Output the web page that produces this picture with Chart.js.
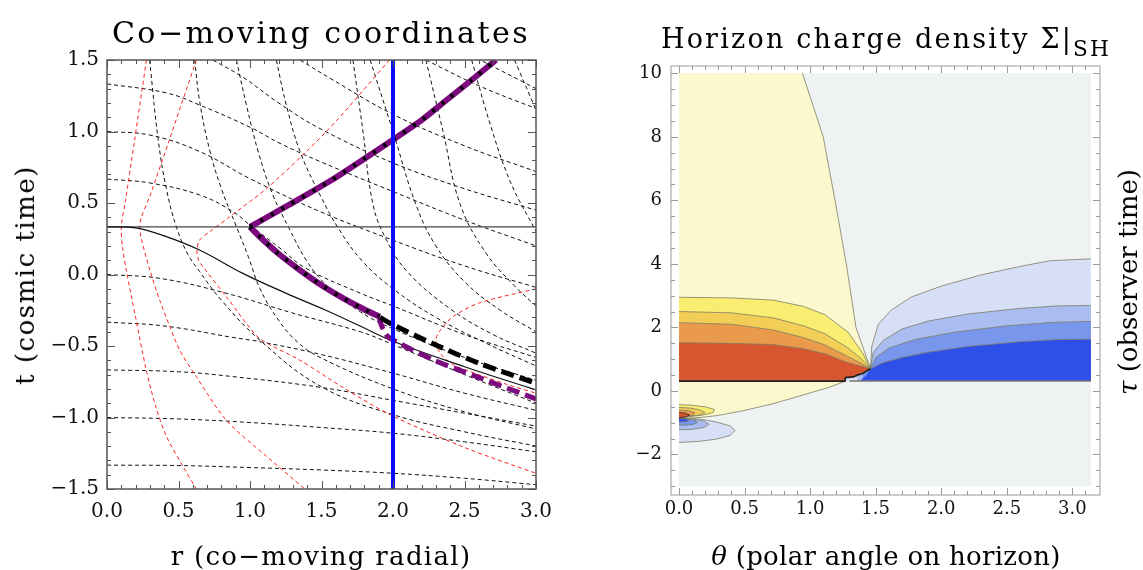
<!DOCTYPE html>
<html>
<head>
<meta charset="utf-8">
<script src="https://cdn.jsdelivr.net/npm/chart.js@4.4.1/dist/chart.umd.min.js"></script>
<style>
  html, body { margin: 0; padding: 0; background: #fff; }
  #wrap { position: relative; width: 1143px; height: 570px; overflow: hidden;
          font-family: "DejaVu Serif", serif; color: #000; }
  .panel { position: absolute; top: 0; height: 570px; }
  #left  { left: 0; width: 571px; }
  #right { left: 571px; width: 572px; }
  .lbl { position: absolute; white-space: nowrap; transform: translate(-50%, -50%); }
  .rot { transform: translate(-50%, -50%) rotate(-90deg); }
  sub { font-size: 0.8em; vertical-align: -0.35em; }
</style>
</head>
<body>
<div id="wrap">
  <div class="panel" id="left"><canvas id="comoving"></canvas></div>
  <div class="panel" id="right"><canvas id="horizon"></canvas></div>

  <div class="lbl" style="left:321px;top:32px;font-size:30px;letter-spacing:2.5px">Co−moving coordinates</div>
  <div class="lbl" style="left:321px;top:556px;font-size:26px;letter-spacing:1.3px">r (co−moving radial)</div>
  <div class="lbl rot" style="left:25px;top:275px;font-size:26px;letter-spacing:1.5px">t (cosmic time)</div>

  <div class="lbl" style="left:886px;top:42px;font-size:27px;letter-spacing:2.2px">Horizon charge density Σ|<sub>SH</sub></div>
  <div class="lbl" style="left:886px;top:556px;font-size:26px;letter-spacing:0.3px"><i>θ</i> (polar angle on horizon)</div>
  <div class="lbl rot" style="left:1128px;top:282px;font-size:26px"><i>τ</i> (observer time)</div>
</div>

<script>
// =====================================================================
// Left panel: co-moving coordinates (r, t)
// =====================================================================
const rTicks = [0, 0.5, 1, 1.5, 2, 2.5, 3];
const tTicks = [-1.5, -1, -0.5, 0, 0.5, 1, 1.5];

// roughly horizontal black dashed family
const sliceM133 = [[0,-1.333],[0.5,-1.336],[1.0,-1.35],[1.5,-1.367],[2.0,-1.39],[2.5,-1.425],[3.0,-1.47]];
const sliceM100 = [[0,-1.0],[0.5,-1.01],[1.0,-1.035],[1.5,-1.07],[2.0,-1.11],[2.5,-1.17],[3.0,-1.24]];
const sliceM067 = [[0,-0.667],[0.5,-0.68],[0.88,-0.714],[1.5,-0.79],[2.0,-0.88],[2.5,-0.97],[3.0,-1.06]];
const sliceM033 = [[0,-0.333],[0.4,-0.36],[0.88,-0.44],[1.07,-0.47],[1.5,-0.56],[2.0,-0.69],[2.5,-0.83],[3.0,-0.95]];
const slice000  = [[0,0],[0.37,-0.027],[0.83,-0.13],[1.3,-0.27],[1.77,-0.4],[2.0,-0.49],[2.5,-0.7],[3.0,-0.9]];
const slice067  = [[0,0.667],[0.3,0.64],[0.648,0.556],[0.88,0.44],[1.0,0.345],[1.21,0.184],[1.39,0.044],[1.77,-0.13],[2.0,-0.22],[2.5,-0.42],[3.0,-0.58]];
const slice100  = [[0,1.0],[0.3,0.975],[0.648,0.86],[1.0,0.67],[1.49,0.44],[2.0,0.24],[2.5,0.06],[3.0,-0.09]];
const slice133  = [[0,1.333],[0.415,1.27],[0.648,1.185],[1.0,1.03],[1.21,0.917],[1.49,0.79],[2.0,0.58],[2.5,0.38],[3.0,0.2]];
const slice167  = [[0.74,1.5],[0.95,1.38],[1.2,1.2],[1.49,1.02],[2.0,0.78],[2.5,0.6],[3.0,0.45]];
const slice200  = [[1.35,1.5],[1.557,1.374],[2.0,1.12],[2.5,0.9],[3.0,0.72]];
const slice233  = [[2.23,1.5],[2.6,1.32],[3.0,1.16]];
const slice267  = [[2.63,1.49],[3.0,1.3]];

// steep black dashed family
const steep1 = [[0.298,1.5],[0.357,0.95],[0.415,0.6],[0.485,0.333],[0.566,0.14],[0.648,0.02],[0.8,-0.18],[1.07,-0.46],[1.49,-0.78],[2.0,-0.98],[2.5,-1.1],[3.0,-1.2]];
const steep2 = [[0.613,1.5],[0.648,1.21],[0.718,0.87],[0.8,0.6],[0.905,0.335],[0.99,0.12],[1.07,-0.1],[1.2,-0.32],[1.33,-0.47],[1.49,-0.58],[2.0,-0.8],[2.5,-0.96],[3.0,-1.08]];
const steep3 = [[0.905,1.5],[0.975,1.185],[1.06,0.85],[1.16,0.556],[1.27,0.33],[1.4,0.09],[1.55,-0.09],[1.77,-0.26],[2.0,-0.38],[2.5,-0.58],[3.0,-0.74]];
const steep4 = [[1.184,1.5],[1.254,1.185],[1.35,0.86],[1.49,0.556],[1.62,0.32],[1.78,0.1],[2.0,-0.1],[2.3,-0.3],[2.65,-0.48],[3.0,-0.64]];
const steep5 = [[1.72,1.5],[1.79,1.0],[1.86,0.49],[1.95,0.25],[2.1,0.02],[2.4,-0.24],[2.7,-0.42],[3.0,-0.55]];
const steep6 = [[1.84,1.5],[2.0,1.0],[2.16,0.49],[2.3,0.2],[2.5,-0.05],[2.75,-0.25],[3.0,-0.4]];
const steep7 = [[2.23,1.5],[2.35,1.0],[2.47,0.49],[2.65,0.15],[2.85,-0.08],[3.0,-0.22]];
const steep8 = [[2.55,1.5],[2.68,1.05],[2.82,0.65],[3.0,0.3]];
const steep9 = [[2.85,1.5],[3.0,1.15]];

// red dashed rays
const ray1 = [[0.276,1.5],[0.19,0.92],[0.13,0.52],[0.1,0.333],[0.11,0.18],[0.135,0.03],[0.2,-0.3],[0.275,-0.67],[0.34,-0.92],[0.415,-1.13],[0.53,-1.34],[0.625,-1.5]];
const ray2 = [[0.625,1.5],[0.432,0.93],[0.3,0.55],[0.24,0.4],[0.229,0.333],[0.24,0.25],[0.3,0.03],[0.368,-0.178],[0.44,-0.365],[0.508,-0.528],[0.625,-0.715],[0.835,-1.02],[1.114,-1.27],[1.395,-1.51]];
const ray3 = [[1.975,1.5],[1.6,1.07],[1.394,0.86],[1.114,0.6],[0.858,0.404],[0.72,0.3],[0.648,0.241],[0.629,0.171],[0.64,0.1],[0.671,0.054],[0.834,-0.155],[0.974,-0.341],[1.07,-0.45],[1.35,-0.6],[1.65,-0.79],[1.98,-0.98],[2.5,-1.21],[3.0,-1.39]];
const ray4 = [[3.0,-0.1],[2.6,-0.2],[2.42,-0.295],[2.33,-0.39],[2.3,-0.46],[2.33,-0.55],[2.42,-0.63],[2.6,-0.7],[2.8,-0.77],[3.0,-0.83]];

// solid curves
const shellCurve  = [[0,0.333],[0.2,0.326],[0.4,0.27],[0.65,0.17],[0.95,0.008],[1.25,-0.13],[1.53,-0.25],[1.77,-0.36],[2.0,-0.467],[2.5,-0.645],[3.0,-0.807]];
const horizonLine = [[0,0.333],[3,0.333]];

// thick highlighted paths
const purpleUpper  = [[1.0,0.333],[1.25,0.475],[1.557,0.652],[1.8,0.81],[2.0,0.943],[2.2,1.08],[2.362,1.21],[2.55,1.36],[2.72,1.5]];
const purpleLower  = [[1.0,0.333],[1.07,0.262],[1.2,0.145],[1.35,0.03],[1.5,-0.075],[1.65,-0.165],[1.8,-0.245],[1.907,-0.295]];
const purpleDashed = [[1.907,-0.295],[1.91,-0.33],[1.93,-0.38],[1.96,-0.43],[2.0,-0.458],[2.28,-0.596],[2.6,-0.72],[3.0,-0.87]];
const blackDashed  = [[1.91,-0.3],[2.0,-0.352],[2.28,-0.484],[2.6,-0.62],[3.0,-0.76]];
const observerLine = [[2,-1.6],[2,1.6]];

// =====================================================================
// Right panel: horizon charge density contours (theta, tau)
// =====================================================================
const thetaTicks = [0, 0.5, 1, 1.5, 2, 2.5, 3];
const tauTicks = [-2, 0, 2, 4, 6, 8, 10];
const thetaMax = 3.1416;

const dataRect   = [[0,-3],[thetaMax,-3],[thetaMax,10],[0,10]];
const wedgeEdge  = [[0.942,10],[1.1,8],[1.19,6],[1.276,4],[1.35,2],[1.46,0.7]];
const lensEdge   = [[1.27,0.31],[1.15,0.12],[1.0,-0.06],[0.87,-0.22],[0.7,-0.42],[0.49,-0.62],[0.3,-0.77],[0.15,-0.84],[0,-0.86]];
const yellowTop  = [[0,2.95],[0.4,2.93],[0.72,2.86],[0.95,2.66],[1.113,2.4],[1.29,1.85],[1.4,1.2],[1.46,0.7]];
const goldTop    = [[0,2.5],[0.4,2.46],[0.72,2.3],[0.95,2.05],[1.113,1.8],[1.29,1.35],[1.4,0.98],[1.46,0.7]];
const orangeTop  = [[0,2.15],[0.4,2.1],[0.72,1.92],[0.95,1.68],[1.113,1.45],[1.29,1.08],[1.4,0.85],[1.46,0.7]];
const redTop     = [[0,1.52],[0.4,1.5],[0.717,1.46],[0.95,1.33],[1.113,1.17],[1.29,0.89],[1.4,0.77],[1.46,0.7]];
const stairEdge  = [[0,0.31],[1.265,0.31],[1.27,0.42],[1.33,0.44],[1.36,0.5],[1.4,0.55],[1.43,0.63],[1.46,0.7]];
const paleBlueTop  = [[1.46,0.7],[1.47,1.4],[1.52,2.1],[1.62,2.55],[1.773,2.96],[2.0,3.3],[2.3,3.65],[2.6,3.92],[2.83,4.1],[thetaMax,4.16]];
const lightBlueTop = [[1.46,0.7],[1.48,1.2],[1.56,1.6],[1.7,1.95],[1.9,2.2],[2.2,2.42],[2.6,2.6],[2.9,2.68],[thetaMax,2.69]];
const midBlueTop   = [[1.46,0.7],[1.5,1.05],[1.6,1.35],[1.8,1.62],[2.1,1.85],[2.5,2.05],[2.85,2.16],[thetaMax,2.19]];
const deepBlueTop  = [[1.46,0.7],[1.55,0.88],[1.7,1.05],[1.9,1.22],[2.2,1.4],[2.6,1.55],[2.9,1.62],[thetaMax,1.63]];
const blueBase     = [[1.3,0.31],[thetaMax,0.31]];

// small lobes near the pole
const lobeYellow = [[0,-0.43],[0.1,-0.45],[0.2,-0.5],[0.27,-0.58],[0.26,-0.68],[0.17,-0.77],[0,-0.83]];
const lobeGold   = [[0,-0.52],[0.09,-0.54],[0.16,-0.6],[0.2,-0.68],[0.15,-0.76],[0.06,-0.81],[0,-0.83]];
const lobeOrange = [[0,-0.6],[0.07,-0.62],[0.12,-0.68],[0.11,-0.76],[0.05,-0.82],[0,-0.83]];
const lobeRed    = [[0,-0.68],[0.05,-0.7],[0.08,-0.76],[0.05,-0.82],[0,-0.84]];
const lobePaleBlue  = [[0,-0.86],[0.15,-0.88],[0.28,-0.97],[0.39,-1.1],[0.427,-1.24],[0.39,-1.4],[0.28,-1.52],[0.14,-1.59],[0,-1.62]];
const lobeLightBlue = [[0,-0.86],[0.1,-0.88],[0.19,-0.95],[0.23,-1.05],[0.19,-1.15],[0.1,-1.21],[0,-1.22]];
const lobeMidBlue   = [[0,-0.86],[0.07,-0.88],[0.13,-0.93],[0.14,-1.0],[0.1,-1.06],[0,-1.08]];
const lobeDeepBlue  = [[0,-0.86],[0.05,-0.88],[0.08,-0.92],[0.06,-0.96],[0,-0.98]];

// ---------------------------------------------------------------------
// helpers
// ---------------------------------------------------------------------
const pts = (a) => a.map(([x, y]) => ({ x, y }));

function curve(data, color, width, dash, tension = 0.4) {
  return { data: pts(data), borderColor: color, borderWidth: width, borderDash: dash || [],
           pointRadius: 0, tension, fill: false, borderCapStyle: 'butt' };
}
function patch(data, color, edge) {
  return { data: pts(data), backgroundColor: color, fill: 'shape', pointRadius: 0, tension: 0,
           borderColor: edge || color, borderWidth: edge ? 0.8 : 0 };
}
// first dataset in the list is drawn at the bottom
function stack(list) {
  list.forEach((d, i) => { d.order = list.length - i; });
  return list;
}
function range(from, to, step) {
  const out = [];
  for (let v = from; v <= to + 1e-9; v += step) out.push(+v.toFixed(4));
  return out;
}
const minus = (s) => s.replace('-', '\u2212');

// inward frame ticks on all four sides (Mathematica style frame)
const frameTicks = {
  id: 'frameTicks',
  afterDatasetsDraw(chart, args, o) {
    const { ctx, chartArea: a, scales: { x, y } } = chart;
    ctx.save();
    ctx.strokeStyle = o.color;
    ctx.lineWidth = 1;
    ctx.beginPath();
    const vx = (vals, len) => vals.forEach((v) => {
      const p = Math.round(x.getPixelForValue(v)) + 0.5;
      ctx.moveTo(p, a.bottom); ctx.lineTo(p, a.bottom - len);
      ctx.moveTo(p, a.top);    ctx.lineTo(p, a.top + len);
    });
    const hy = (vals, len) => vals.forEach((v) => {
      const p = Math.round(y.getPixelForValue(v)) + 0.5;
      ctx.moveTo(a.left, p);  ctx.lineTo(a.left + len, p);
      ctx.moveTo(a.right, p); ctx.lineTo(a.right - len, p);
    });
    vx(o.xMinor, o.minorLen); vx(o.xMajor, o.majorLen);
    hy(o.yMinor, o.minorLen); hy(o.yMajor, o.majorLen);
    ctx.stroke();
    ctx.lineWidth = o.frameWidth;
    ctx.strokeRect(a.left, a.top, a.right - a.left, a.bottom - a.top);
    ctx.restore();
  }
};

function axis(min, max, ticks, fmt, size, pad, fit) {
  return {
    type: 'linear', min, max,
    grid: { display: false, drawTicks: false },
    border: { display: false },
    afterBuildTicks: (s) => { s.ticks = ticks.map((v) => ({ value: v })); },
    afterFit: fit,
    ticks: { callback: fmt, color: '#111', padding: pad, maxRotation: 0, autoSkip: false,
             font: { family: 'DejaVu Serif', size } }
  };
}

Chart.defaults.animation = false;
Chart.defaults.events = [];

// ---------------------------------------------------------------------
// left chart
// ---------------------------------------------------------------------
const K = '#111';
const R = '#ff2424';
const thin = [4, 3];

const leftSets = stack([
  ...[sliceM133, sliceM100, sliceM067, sliceM033, slice000, slice067, slice100,
      slice133, slice167, slice200, slice233, slice267].map((c) => curve(c, K, 1, thin)),
  ...[steep1, steep2, steep3, steep4, steep5, steep6, steep7, steep8, steep9].map((c) => curve(c, K, 1, thin)),
  ...[ray1, ray2, ray3, ray4].map((c) => curve(c, R, 1, thin, 0.3)),
  curve(horizonLine, '#444', 1.2, [], 0),
  curve(shellCurve, K, 1.2, []),
  curve(purpleUpper, '#7a0a7e', 6, [], 0.3),
  curve(purpleLower, '#7a0a7e', 6, [], 0.3),
  curve(purpleUpper, '#000', 4, [3, 9], 0.3),
  curve(purpleLower, '#000', 4, [3, 9], 0.3),
  curve(purpleDashed, '#7a0a7e', 5, [13, 6], 0.3),
  curve(blackDashed, '#000', 5, [13, 6], 0.3),
  curve(observerLine, '#0a0aff', 4, [], 0)
]);

new Chart(document.getElementById('comoving'), {
  type: 'line',
  data: { datasets: leftSets },
  options: {
    responsive: true,
    maintainAspectRatio: false,
    layout: { padding: { top: 60, right: 35, left: 0, bottom: 0 } },
    plugins: {
      legend: { display: false },
      tooltip: { enabled: false },
      frameTicks: {
        color: '#555', frameWidth: 1.5, majorLen: 8, minorLen: 4,
        xMajor: rTicks, xMinor: range(0, 3, 0.1),
        yMajor: tTicks, yMinor: range(-1.5, 1.5, 0.1)
      }
    },
    scales: {
      x: axis(0, 3, rTicks, (v) => minus(v.toFixed(1)), 20, 11, (s) => { s.height = 81; }),
      y: axis(-1.5, 1.5, tTicks, (v) => minus(v.toFixed(1)), 20, 8, (s) => { s.width = 107; })
    }
  },
  plugins: [frameTicks]
});

// ---------------------------------------------------------------------
// right chart
// ---------------------------------------------------------------------
const EDGE = '#7d7d66';
const rightSets = stack([
  patch(dataRect, '#eff2f2'),
  patch([[0, 10], ...wedgeEdge, ...lensEdge], '#fbf8cd'),
  patch([[0, 0.31], ...yellowTop, [1.27, 0.31]], '#f9ee72'),
  patch([[0, 0.31], ...goldTop, [1.27, 0.31]], '#f3ce57'),
  patch([[0, 0.31], ...orangeTop, [1.27, 0.31]], '#e99a4b'),
  patch([...redTop, ...stairEdge.slice().reverse()], '#d7562f'),
  patch([...paleBlueTop, [thetaMax, 0.31], [1.27, 0.31], [1.27, 0.42], [1.33, 0.44]], '#d6dff5'),
  patch([...lightBlueTop, [thetaMax, 0.31], [1.36, 0.31], [1.36, 0.5]], '#a9bdf0'),
  patch([...midBlueTop, [thetaMax, 0.31], [1.4, 0.31], [1.4, 0.55]], '#7896ec'),
  patch([...deepBlueTop, [thetaMax, 0.31], [1.38, 0.31], [1.43, 0.5]], '#2f4fe9'),
  ...[wedgeEdge, lensEdge, yellowTop, goldTop, orangeTop, redTop,
      paleBlueTop, lightBlueTop, midBlueTop, deepBlueTop].map((c) => curve(c, EDGE, 0.8, [], 0)),
  curve(blueBase, '#777', 1.5, [], 0),
  curve(stairEdge, '#222', 1.8, [], 0),
  patch(lobePaleBlue, '#d6dff5', EDGE),
  patch(lobeLightBlue, '#a9bdf0', EDGE),
  patch(lobeMidBlue, '#7896ec', EDGE),
  patch(lobeDeepBlue, '#2f4fe9', EDGE),
  patch(lobeYellow, '#f9ee72', EDGE),
  patch(lobeGold, '#f3ce57', EDGE),
  patch(lobeOrange, '#e99a4b', EDGE),
  patch(lobeRed, '#d7562f', '#222')
]);

new Chart(document.getElementById('horizon'), {
  type: 'line',
  data: { datasets: rightSets },
  options: {
    responsive: true,
    maintainAspectRatio: false,
    layout: { padding: { top: 66, right: 43, left: 0, bottom: 0 } },
    plugins: {
      legend: { display: false },
      tooltip: { enabled: false },
      frameTicks: {
        color: '#9a9a9a', frameWidth: 1, majorLen: 7, minorLen: 4,
        xMajor: thetaTicks, xMinor: range(0, 3.1, 0.1),
        yMajor: tauTicks, yMinor: range(-3, 10, 0.5)
      }
    },
    scales: {
      x: axis(-0.061, 3.211, thetaTicks, (v) => v.toFixed(1), 18, 4, (s) => { s.height = 75; }),
      y: axis(-3.275, 10.23, tauTicks, (v) => minus(String(v)), 18, 9, (s) => { s.width = 100; })
    }
  },
  plugins: [frameTicks]
});
</script>
</body>
</html>
